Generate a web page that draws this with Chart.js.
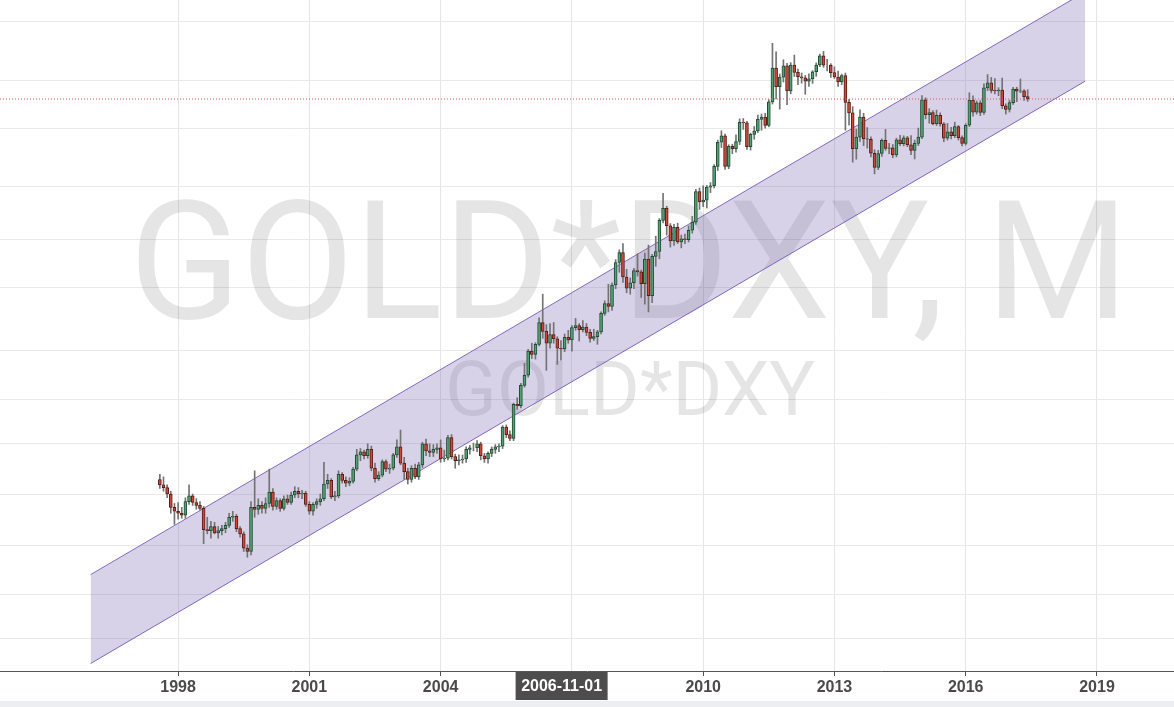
<!DOCTYPE html>
<html>
<head>
<meta charset="utf-8">
<script src="https://cdn.jsdelivr.net/npm/chart.js@4.4.0/dist/chart.umd.min.js"></script>
<style>
  html, body { margin: 0; padding: 0; background: #fff; }
  #wrap { width: 1174px; height: 707px; position: relative; }
</style>
</head>
<body>
<div id="wrap"><canvas id="chart"></canvas></div>
<script>
// GOLD*DXY monthly, values in thousands, from 1997-08
const firstMonth = { year: 1997, month: 8 };

const opens = [
  32.6, 32.0, 31.7, 31.0, 29.6,
  29.2, 29.0, 28.8, 30.2, 30.8, 30.1, 29.8, 29.5, 27.4, 27.3, 27.7, 27.1,
  27.3, 27.5, 27.8, 28.6, 28.7, 27.5, 27.0, 25.7, 25.4, 29.6, 29.4, 29.8,
  29.5, 30.0, 31.2, 29.7, 30.3, 29.5, 30.5, 30.1, 30.9, 31.3, 31.0, 31.1,
  29.9, 29.2, 29.9, 30.2, 30.5, 32.1, 32.5, 30.7, 30.8, 33.2, 32.5, 32.2,
  32.4, 33.8, 35.5, 35.9, 35.4, 36.2, 33.9, 32.7, 33.1, 34.7, 33.8, 33.9,
  35.5, 36.5, 34.5, 33.5, 32.6, 33.9, 32.9, 34.3, 36.9, 36.0, 35.8, 36.2,
  36.4, 35.0, 35.1, 37.7, 35.3, 34.8, 34.9, 35.0, 36.2, 36.4, 36.4, 36.9,
  35.4, 35.0, 35.7, 36.2, 36.5, 36.6, 39.1, 38.1, 37.6, 42.3, 42.1, 45.2,
  46.8, 50.9, 50.3, 52.1, 56.2, 54.5, 52.3, 53.9, 53.1, 51.4, 51.3, 53.4,
  52.9, 55.2, 55.6, 54.8, 55.3, 54.3, 53.2, 53.5, 54.4, 58.0, 60.0, 59.4,
  64.0, 69.2, 71.6, 65.8, 63.3, 64.5, 67.3, 67.0, 64.3, 70.0, 61.7, 70.7,
  71.9, 80.1, 83.5, 78.6, 74.6, 78.2, 74.3, 75.1, 74.9, 77.4, 79.6, 88.5,
  85.4, 85.9, 89.9, 90.3, 96.6, 105.0, 107.4, 96.6, 103.5, 102.7, 105.3, 112.5,
  112.3, 103.4, 107.9, 109.2, 113.7, 114.6, 111.3, 120.8, 135.8, 127.3, 131.6, 136.9,
  125.5, 137.3, 133.8, 131.8, 131.3, 129.8, 130.9, 134.1, 137.3, 141.7, 137.2, 137.2,
  133.7, 131.7, 129.5, 132.3, 120.6, 116.3, 102.7, 106.9, 114.6, 106.3, 106.1, 101.1,
  96.2, 101.0, 105.7, 102.8, 103.0, 100.5, 105.9, 104.5, 106.6, 104.1, 102.1, 104.6,
  106.9, 121.7, 115.6, 116.4, 112.0, 115.3, 111.9, 106.5, 108.9, 107.4, 110.9, 106.7,
  104.6, 111.4, 121.6, 116.6, 120.4, 116.5, 126.8, 129.0, 125.7, 125.5, 125.8, 119.2,
  117.7, 120.5, 126.3, 125.4, 125.5, 123.0
];
const highs = [
  33.2, 32.9, 32.0, 31.3, 30.0,
  30.1, 29.6, 30.6, 32.0, 31.0, 30.5, 30.2, 29.7, 28.6, 28.2, 28.1, 27.7,
  27.8, 28.1, 29.0, 29.2, 28.9, 27.7, 27.2, 26.0, 30.2, 33.6, 30.5, 30.2,
  30.6, 33.8, 31.6, 30.6, 30.5, 30.8, 30.9, 31.2, 31.8, 31.7, 31.4, 31.3,
  30.2, 30.1, 30.5, 31.0, 34.6, 33.2, 32.7, 31.3, 33.6, 33.4, 32.9, 32.8,
  34.0, 36.2, 36.3, 36.1, 36.9, 36.6, 34.5, 33.5, 34.9, 34.9, 34.4, 35.7,
  37.4, 38.7, 35.2, 33.9, 34.2, 34.4, 34.6, 37.1, 37.5, 36.9, 36.8, 36.9,
  37.4, 36.1, 38.0, 38.1, 35.6, 35.5, 35.5, 36.5, 36.7, 37.0, 37.3, 37.1,
  35.7, 35.9, 36.5, 36.8, 36.9, 39.3, 39.4, 38.6, 42.5, 43.3, 45.5, 48.8,
  51.2, 52.3, 52.4, 57.1, 62.0, 55.8, 56.0, 56.2, 53.5, 52.8, 54.0, 54.7,
  55.6, 57.0, 56.0, 56.6, 56.0, 54.9, 54.9, 54.7, 58.3, 60.6, 64.2, 64.5,
  69.9, 72.3, 73.9, 67.6, 65.6, 67.8, 71.3, 67.4, 71.5, 73.5, 71.2, 75.8,
  80.6, 88.0, 84.1, 79.2, 79.0, 79.3, 76.1, 76.4, 78.6, 81.2, 89.2, 89.6,
  90.3, 90.4, 91.3, 97.2, 105.8, 109.3, 108.0, 104.1, 104.3, 107.8, 113.9, 114.0,
  112.9, 108.4, 110.9, 115.4, 115.8, 116.1, 121.7, 148.0, 143.7, 133.1, 139.8, 138.1,
  138.4, 142.1, 135.4, 133.5, 132.4, 133.1, 134.6, 138.3, 142.6, 143.9, 140.0, 137.9,
  136.4, 134.4, 133.0, 133.5, 121.9, 118.8, 109.9, 117.5, 116.1, 110.5, 107.0, 102.3,
  102.1, 106.3, 109.8, 104.6, 104.2, 106.5, 107.6, 107.4, 107.2, 107.5, 105.8, 110.3,
  123.5, 122.5, 118.0, 117.2, 117.4, 116.3, 112.4, 112.1, 110.6, 112.6, 111.3, 107.4,
  112.0, 124.7, 123.4, 121.2, 121.3, 128.6, 132.8, 131.5, 131.0, 126.9, 131.2, 120.0,
  121.5, 127.0, 127.1, 130.8, 126.1, 126.0
];
const lows = [
  31.6, 31.3, 30.6, 29.0, 27.9,
  28.4, 28.5, 28.5, 29.9, 29.8, 29.4, 29.3, 26.1, 27.0, 26.6, 27.0, 26.6,
  26.9, 27.1, 27.6, 28.2, 27.2, 26.7, 25.4, 24.9, 25.1, 28.6, 28.9, 29.0,
  29.0, 29.6, 29.3, 29.4, 29.2, 29.3, 29.9, 29.9, 30.6, 30.6, 30.5, 29.7,
  28.9, 28.8, 29.5, 29.8, 30.3, 31.6, 30.5, 30.3, 30.6, 32.2, 31.8, 31.9,
  32.2, 33.6, 34.8, 35.0, 35.1, 33.6, 32.3, 32.5, 32.9, 33.5, 33.3, 33.7,
  35.2, 34.3, 32.6, 32.1, 32.3, 32.7, 32.6, 34.0, 35.4, 35.3, 35.3, 35.7,
  34.6, 34.7, 34.9, 35.0, 33.9, 34.3, 34.5, 34.6, 35.6, 36.0, 35.9, 34.9,
  34.6, 34.5, 35.3, 35.7, 35.9, 36.3, 37.7, 37.3, 37.3, 41.6, 41.8, 44.9,
  46.5, 49.6, 49.5, 51.8, 53.2, 47.6, 51.4, 52.3, 48.6, 49.3, 50.8, 52.3,
  50.9, 54.7, 52.7, 54.4, 53.7, 52.5, 52.8, 52.1, 54.0, 57.6, 58.3, 58.6,
  63.2, 66.9, 64.6, 62.3, 62.0, 63.2, 66.0, 61.3, 59.9, 58.3, 60.2, 68.3,
  70.1, 79.4, 76.1, 73.0, 73.4, 73.9, 72.8, 73.9, 74.3, 76.6, 79.0, 83.2,
  84.0, 83.6, 88.2, 89.6, 95.2, 103.1, 95.6, 95.8, 100.9, 101.5, 104.2, 109.8,
  102.4, 102.2, 106.1, 108.6, 109.5, 110.3, 110.8, 119.9, 122.0, 117.8, 129.4, 119.6,
  124.2, 131.9, 128.2, 128.9, 124.0, 127.5, 128.8, 132.0, 136.5, 136.2, 134.5, 131.5,
  131.0, 127.5, 128.3, 109.5, 111.4, 98.0, 99.0, 105.3, 103.8, 102.9, 99.8, 94.1,
  95.5, 100.0, 102.1, 100.9, 99.5, 99.8, 103.8, 103.7, 103.4, 100.6, 99.1, 103.8,
  106.3, 113.9, 112.2, 111.5, 111.3, 111.0, 105.2, 105.8, 106.2, 106.7, 105.8, 103.7,
  104.0, 110.9, 115.0, 115.8, 115.2, 115.7, 125.6, 124.6, 124.2, 123.4, 118.0, 115.8,
  116.6, 119.7, 120.9, 124.7, 121.4, 121.0
];
const closes = [
  32.0, 31.7, 31.0, 29.6, 29.2,
  29.0, 28.8, 30.2, 30.8, 30.1, 29.8, 29.5, 27.4, 27.3, 27.7, 27.1, 27.3,
  27.5, 27.8, 28.6, 28.7, 27.5, 27.0, 25.7, 25.4, 29.6, 29.4, 29.8, 29.5,
  30.0, 31.2, 29.7, 30.3, 29.5, 30.5, 30.1, 30.9, 31.3, 31.0, 31.1, 29.9,
  29.2, 29.9, 30.2, 30.5, 32.1, 32.5, 30.7, 30.8, 33.2, 32.5, 32.2, 32.4,
  33.8, 35.5, 35.9, 35.4, 36.2, 33.9, 32.7, 33.1, 34.7, 33.8, 33.9, 35.5,
  36.5, 34.5, 33.5, 32.6, 33.9, 32.9, 34.3, 36.9, 36.0, 35.8, 36.2, 36.4,
  35.0, 35.1, 37.7, 35.3, 34.8, 34.9, 35.0, 36.2, 36.4, 36.4, 36.9, 35.4,
  35.0, 35.7, 36.2, 36.5, 36.6, 39.1, 38.1, 37.6, 42.3, 42.1, 45.2, 46.8,
  50.9, 50.3, 52.1, 56.2, 54.5, 52.3, 53.9, 53.1, 51.4, 51.3, 53.4, 52.9,
  55.2, 55.6, 54.8, 55.3, 54.3, 53.2, 53.5, 54.4, 58.0, 60.0, 59.4, 64.0,
  69.2, 71.6, 65.8, 63.3, 64.5, 67.3, 67.0, 64.3, 70.0, 61.7, 70.7, 71.9,
  80.1, 83.5, 78.6, 74.6, 78.2, 74.3, 75.1, 74.9, 77.4, 79.6, 88.5, 85.4,
  85.9, 89.9, 90.3, 96.6, 105.0, 107.4, 96.6, 103.5, 102.7, 105.3, 112.5, 112.3,
  103.4, 107.9, 109.2, 113.7, 114.6, 111.3, 120.8, 135.8, 127.3, 131.6, 136.9, 125.5,
  137.3, 133.8, 131.8, 131.3, 129.8, 130.9, 134.1, 137.3, 141.7, 137.2, 137.2, 133.7,
  131.7, 129.5, 132.3, 120.6, 116.3, 102.7, 106.9, 114.6, 106.3, 106.1, 101.1, 96.2,
  101.0, 105.7, 102.8, 103.0, 100.5, 105.9, 104.5, 106.6, 104.1, 102.1, 104.6, 106.9,
  121.7, 115.6, 116.4, 112.0, 115.3, 111.9, 106.5, 108.9, 107.4, 110.9, 106.7, 104.6,
  111.4, 121.6, 116.6, 120.4, 116.5, 126.8, 129.0, 125.7, 125.5, 125.8, 119.2, 117.7,
  120.5, 126.3, 125.4, 125.5, 123.0, 122.0
];

const yearTicks = [1998, 2001, 2004, 2007, 2010, 2013, 2016, 2019];
const priceGrid = [18.8, 21.9, 25.9, 30.9, 36.9, 43.0, 51.0, 63.5, 75.0, 90.2, 110.3, 130.3, 159.9];

// regression channel: [start, end] dates and values
const channelDates = [1996.0, 2018.73];
const channelUpper = [23.44, 176.9];
const channelLower = [17.22, 129.8];

const crosshairLabel = '2006-11-01';
const crosshairDate = 2006 + 10 / 12;

const xMin = 1993.93, xMax = 2020.76;
const yMin = 16.78, yMax = 172.0;

// month -> decimal year
const dates = closes.map((_, i) => {
  const m = firstMonth.month - 1 + i;
  return firstMonth.year + Math.floor(m / 12) + (m % 12) / 12;
});
const lastPrice = closes[closes.length - 1];

const upFill = '#53a275', downFill = '#cc4a3c';
const upLine = '#1f4a33', downLine = '#5a1b14';

const watermark = {
  id: 'watermark',
  beforeDatasetsDraw(chart) {
    const ctx = chart.ctx;
    ctx.save();
    ctx.fillStyle = 'rgba(0,0,0,0.1)';
    ctx.textAlign = 'center';
    ctx.textBaseline = 'alphabetic';
    ctx.font = '166px Roboto, "Liberation Sans", sans-serif';
    ctx.fillText('GOLD*DXY, M', 629, 318, 1000);
    ctx.font = '76px Roboto, "Liberation Sans", sans-serif';
    ctx.fillText('GOLD*DXY', 630, 415, 400);
    ctx.restore();
  }
};

const axisExtras = {
  id: 'axisExtras',
  afterDraw(chart) {
    const ctx = chart.ctx;
    const x = chart.scales.x;
    const bottom = chart.chartArea.bottom;
    ctx.save();
    // bottom strip
    ctx.fillStyle = '#eceef2';
    ctx.fillRect(0, 701, chart.width, 6);
    // crosshair date label
    const px = x.getPixelForValue(crosshairDate) - 3;
    ctx.fillStyle = '#4d4d4d';
    ctx.fillRect(px - 46, bottom + 1, 92, 28);
    ctx.fillStyle = '#ffffff';
    ctx.font = 'bold 16px "Liberation Sans", Arial, sans-serif';
    ctx.textAlign = 'center';
    ctx.textBaseline = 'middle';
    ctx.fillText(crosshairLabel, px, bottom + 16);
    ctx.restore();
  }
};

new Chart(document.getElementById('chart'), {
  type: 'bar',
  data: {
    datasets: [
      {
        type: 'line',
        data: channelDates.map((d, i) => ({ x: d, y: channelLower[i] })),
        borderColor: '#8468c0',
        borderWidth: 1,
        pointRadius: 0,
        fill: false,
        order: 5
      },
      {
        type: 'line',
        data: channelDates.map((d, i) => ({ x: d, y: channelUpper[i] })),
        borderColor: '#8468c0',
        borderWidth: 1,
        pointRadius: 0,
        backgroundColor: 'rgba(110,90,170,0.27)',
        fill: '-1',
        order: 4
      },
      {
        data: dates.map((d, i) => ({ x: d, y: [lows[i], highs[i]] })),
        backgroundColor: '#737373',
        barThickness: 1,
        grouped: false,
        order: 3
      },
      {
        data: dates.map((d, i) => ({ x: d, y: [opens[i], closes[i]] })),
        backgroundColor: closes.map((c, i) => c >= opens[i] ? upFill : downFill),
        borderColor: closes.map((c, i) => c >= opens[i] ? upLine : downLine),
        borderWidth: 1,
        borderSkipped: false,
        barThickness: 3,
        grouped: false,
        order: 2
      },
      {
        type: 'line',
        data: [{ x: xMin, y: lastPrice }, { x: xMax, y: lastPrice }],
        borderColor: '#e0574c',
        borderWidth: 1,
        borderDash: [1, 2],
        pointRadius: 0,
        fill: false,
        order: 1
      }
    ]
  },
  options: {
    responsive: true,
    maintainAspectRatio: false,
    animation: false,
    events: [],
    layout: { padding: 0 },
    plugins: { legend: { display: false }, tooltip: { enabled: false } },
    scales: {
      x: {
        type: 'linear',
        min: xMin,
        max: xMax,
        offset: false,
        afterBuildTicks(scale) { scale.ticks = yearTicks.map(v => ({ value: v })); },
        afterFit(scale) { scale.height = 36; },
        grid: { color: '#e6e6e6', tickLength: 5, tickColor: '#555', offset: false },
        border: { color: '#555', width: 1 },
        ticks: {
          color: '#4a4a4a',
          font: { family: '"Liberation Sans", Arial, sans-serif', size: 16, weight: 'bold' },
          padding: 2,
          maxRotation: 0,
          autoSkip: false,
          callback: v => String(v)
        }
      },
      y: {
        type: 'logarithmic',
        min: yMin,
        max: yMax,
        afterBuildTicks(scale) { scale.ticks = priceGrid.map(v => ({ value: v })); },
        afterFit(scale) { scale.width = 0; },
        grid: { color: '#e9e9e9', drawTicks: false },
        border: { display: false },
        ticks: { display: false }
      }
    }
  },
  plugins: [watermark, axisExtras]
});
</script>
</body>
</html>
